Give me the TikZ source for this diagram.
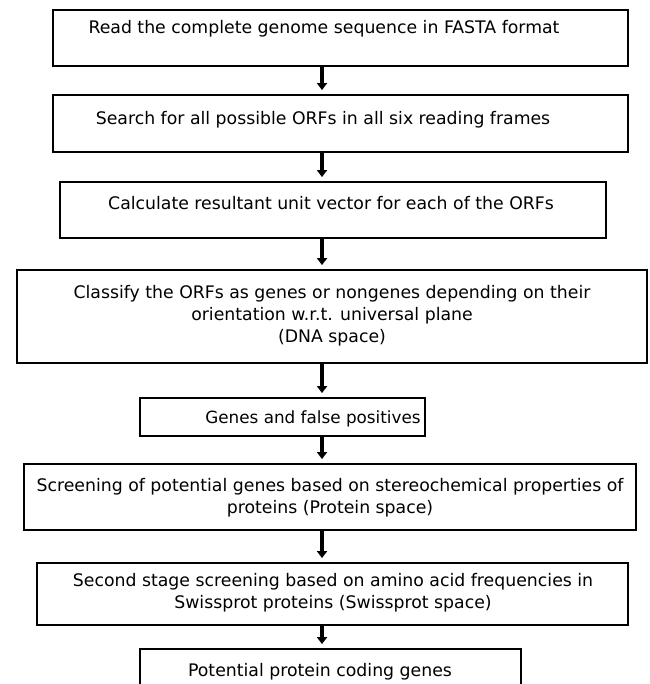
\documentclass[tikz,border=0pt]{standalone}
\usepackage{fontspec}
\setmainfont{DejaVu Sans}
\usetikzlibrary{arrows.meta,positioning}
\tikzset{
  stage/.style={draw=black,line width=1.8pt,inner sep=0pt},
  stagetext/.style={align=center,anchor=north,inner sep=0pt,font=\fontsize{17.3}{22}\selectfont},
  arrow/.style={-{Triangle[length=7pt,width=10pt]},line width=3.5pt,draw=black,shorten >=4pt}
}

\begin{document}
\begin{tikzpicture}[x=1pt,y=-1pt]
    \useasboundingbox (0,0) rectangle (649,684);
    \coordinate (axis) at (322,0);
    % boxes
    \node[stage,minimum width=575pt,minimum height=56pt] (b1) at (340.5,38) {};
    \node[stage,minimum width=575pt,minimum height=57pt] (b2) at (340.5,123.5) {};
    \node[stage,minimum width=546pt,minimum height=56pt] (b3) at (333,210) {};
    \node[stage,minimum width=630pt,minimum height=93pt] (b4) at (332,316.5) {};
    \node[stage,minimum width=285pt,minimum height=38pt] (b5) at (282.5,417) {};
    \node[stage,minimum width=612pt,minimum height=66pt] (b6) at (330,497) {};
    \node[stage,minimum width=591pt,minimum height=62pt] (b7) at (332.5,594) {};
    \node[stage,minimum width=381pt,minimum height=51pt] (b8) at (330.5,674.5) {};
    % texts
    \node[stagetext] (t1) at (324,20) {Read the complete genome sequence in FASTA format};
    \node[stagetext] (t2) at (323,111) {Search for all possible ORFs in all six reading frames};
    \node[stagetext] (t3) at (331,196) {Calculate resultant unit vector for each of the ORFs};
    \node[stagetext] (t4) at (332,285) {Classify the ORFs as genes or nongenes depending on their\\orientation w.r.t. universal plane\\(DNA space)};
    \node[stagetext,font=\fontsize{16.8}{21}\selectfont] (t5) at (313,410.5) {Genes and false positives};
    \node[stagetext] (t6) at (330,478) {Screening of potential genes based on stereochemical properties of\\proteins (Protein space)};
    \node[stagetext] (t7) at (333,573) {Second stage screening based on amino acid frequencies in\\Swissprot proteins (Swissprot space)};
    \node[stagetext] (t8) at (320,663) {Potential protein coding genes};
    % arrows
    \draw[arrow] (b1.south -| axis) -- (b2.north -| axis);
    \draw[arrow] (b2.south -| axis) -- (b3.north -| axis);
    \draw[arrow] (b3.south -| axis) -- (b4.north -| axis);
    \draw[arrow] (b4.south -| axis) -- (b5.north -| axis);
    \draw[arrow] (b5.south -| axis) -- (b6.north -| axis);
    \draw[arrow] (b6.south -| axis) -- (b7.north -| axis);
    \draw[arrow] (b7.south -| axis) -- (b8.north -| axis);
\end{tikzpicture}
\end{document}
